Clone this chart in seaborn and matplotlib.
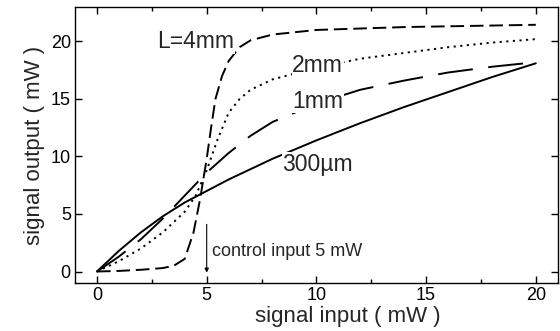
import numpy as np
import pandas as pd
import matplotlib
matplotlib.use("Agg")
import matplotlib.pyplot as plt
import seaborn as sns
from matplotlib.ticker import MultipleLocator

# ---- data ----
x_300um = [0, 1, 2, 3, 4, 5, 6, 7, 8, 10, 12, 14, 16, 18, 20]
y_300um = [0, 1.8, 3.4, 4.8, 6.0, 7.0, 8.0, 8.9, 9.8, 11.4, 12.9, 14.3, 15.6, 16.9, 18.1]

x_1mm = [0, 1, 2, 3, 4, 5, 6, 7, 8, 10, 12, 14, 16, 18, 20]
y_1mm = [0, 1.3, 2.8, 4.6, 6.6, 8.6, 10.3, 11.8, 13.0, 14.6, 15.8, 16.6, 17.3, 17.8, 18.2]

x_2mm = [0, 1, 2, 3, 4, 4.5, 5, 5.5, 6, 6.5, 7, 8, 9, 10, 12, 14, 16, 18, 20]
y_2mm = [0, 0.9, 2.0, 3.4, 5.2, 6.6, 8.8, 11.5, 13.8, 15.0, 15.8, 16.7, 17.2, 17.7, 18.5, 19.0, 19.5, 19.9, 20.2]

x_4mm = [0, 1, 2, 3, 3.5, 4, 4.4, 4.7, 5, 5.2, 5.4, 5.7, 6, 6.5, 7, 8, 10, 14, 20]
y_4mm = [0, 0.05, 0.15, 0.3, 0.5, 1.1, 3.4, 6.3, 9.8, 12.5, 15.0, 17.0, 18.3, 19.5, 20.1, 20.6, 21.0, 21.25, 21.45]

curve_labels = ["L=4mm", "2mm", "1mm", "300\u00b5m"]
label_x = [2.75, 8.9, 8.9, 8.45]
label_y = [20.0, 17.9, 14.8, 9.3]

x_ticks = [0, 5, 10, 15, 20]
y_ticks = [0, 5, 10, 15, 20]
control_x = 5
annotation = "control input 5 mW"

sns.set_theme(style="white")
plt.rcParams["font.family"] = ["Liberation Sans", "DejaVu Sans"]

fig = plt.figure(figsize=(5.6, 3.31), dpi=100)
ax = fig.add_axes([0.134, 0.145, 0.862, 0.834])

common = dict(ax=ax, color="black", estimator=None, sort=False)
sns.lineplot(x=x_300um, y=y_300um, lw=1.4, **common)
l1 = sns.lineplot(x=x_1mm, y=y_1mm, lw=1.4, **common).lines[-1]
l1.set_dashes([18, 8])
l2 = sns.lineplot(x=x_2mm, y=y_2mm, lw=1.4, **common).lines[-1]
l2.set_dashes([1.1, 2.3])
l4 = sns.lineplot(x=x_4mm, y=y_4mm, lw=1.4, **common).lines[-1]
l4.set_dashes([7, 3])

for t, lx, ly in zip(curve_labels, label_x, label_y):
    ax.text(lx, ly, t, fontsize=16.5, va="center", ha="left", zorder=5,
            bbox=dict(facecolor="white", edgecolor="none", pad=0.5))

ax.annotate("", xy=(control_x, -0.1), xytext=(control_x, 4.1),
            arrowprops=dict(arrowstyle="-|>", color="black", lw=0.8,
                            mutation_scale=6, shrinkA=0, shrinkB=0))
ax.text(control_x + 0.25, 1.75, annotation, fontsize=13, va="center", ha="left")

ax.set_xlim(-1, 21)
ax.set_ylim(-1, 23)
ax.set_xticks(x_ticks)
ax.set_yticks(y_ticks)
ax.xaxis.set_minor_locator(MultipleLocator(2.5))
ax.tick_params(which="both", direction="in", top=True, right=True,
               bottom=True, left=True, colors="black", labelsize=13, pad=3)
ax.tick_params(which="major", length=5, width=1)
ax.tick_params(which="minor", length=3, width=1)
ax.tick_params(axis="y", which="minor", left=False, right=False)

for s in ax.spines.values():
    s.set_color("black")
    s.set_linewidth(1.0)

ax.set_xlabel("signal input ( mW )", fontsize=16, va="center")
ax.xaxis.set_label_coords(0.566, -0.12)
ax.set_ylabel("signal output ( mW )", fontsize=16, labelpad=4)

fig.savefig("out.png", dpi=100)
